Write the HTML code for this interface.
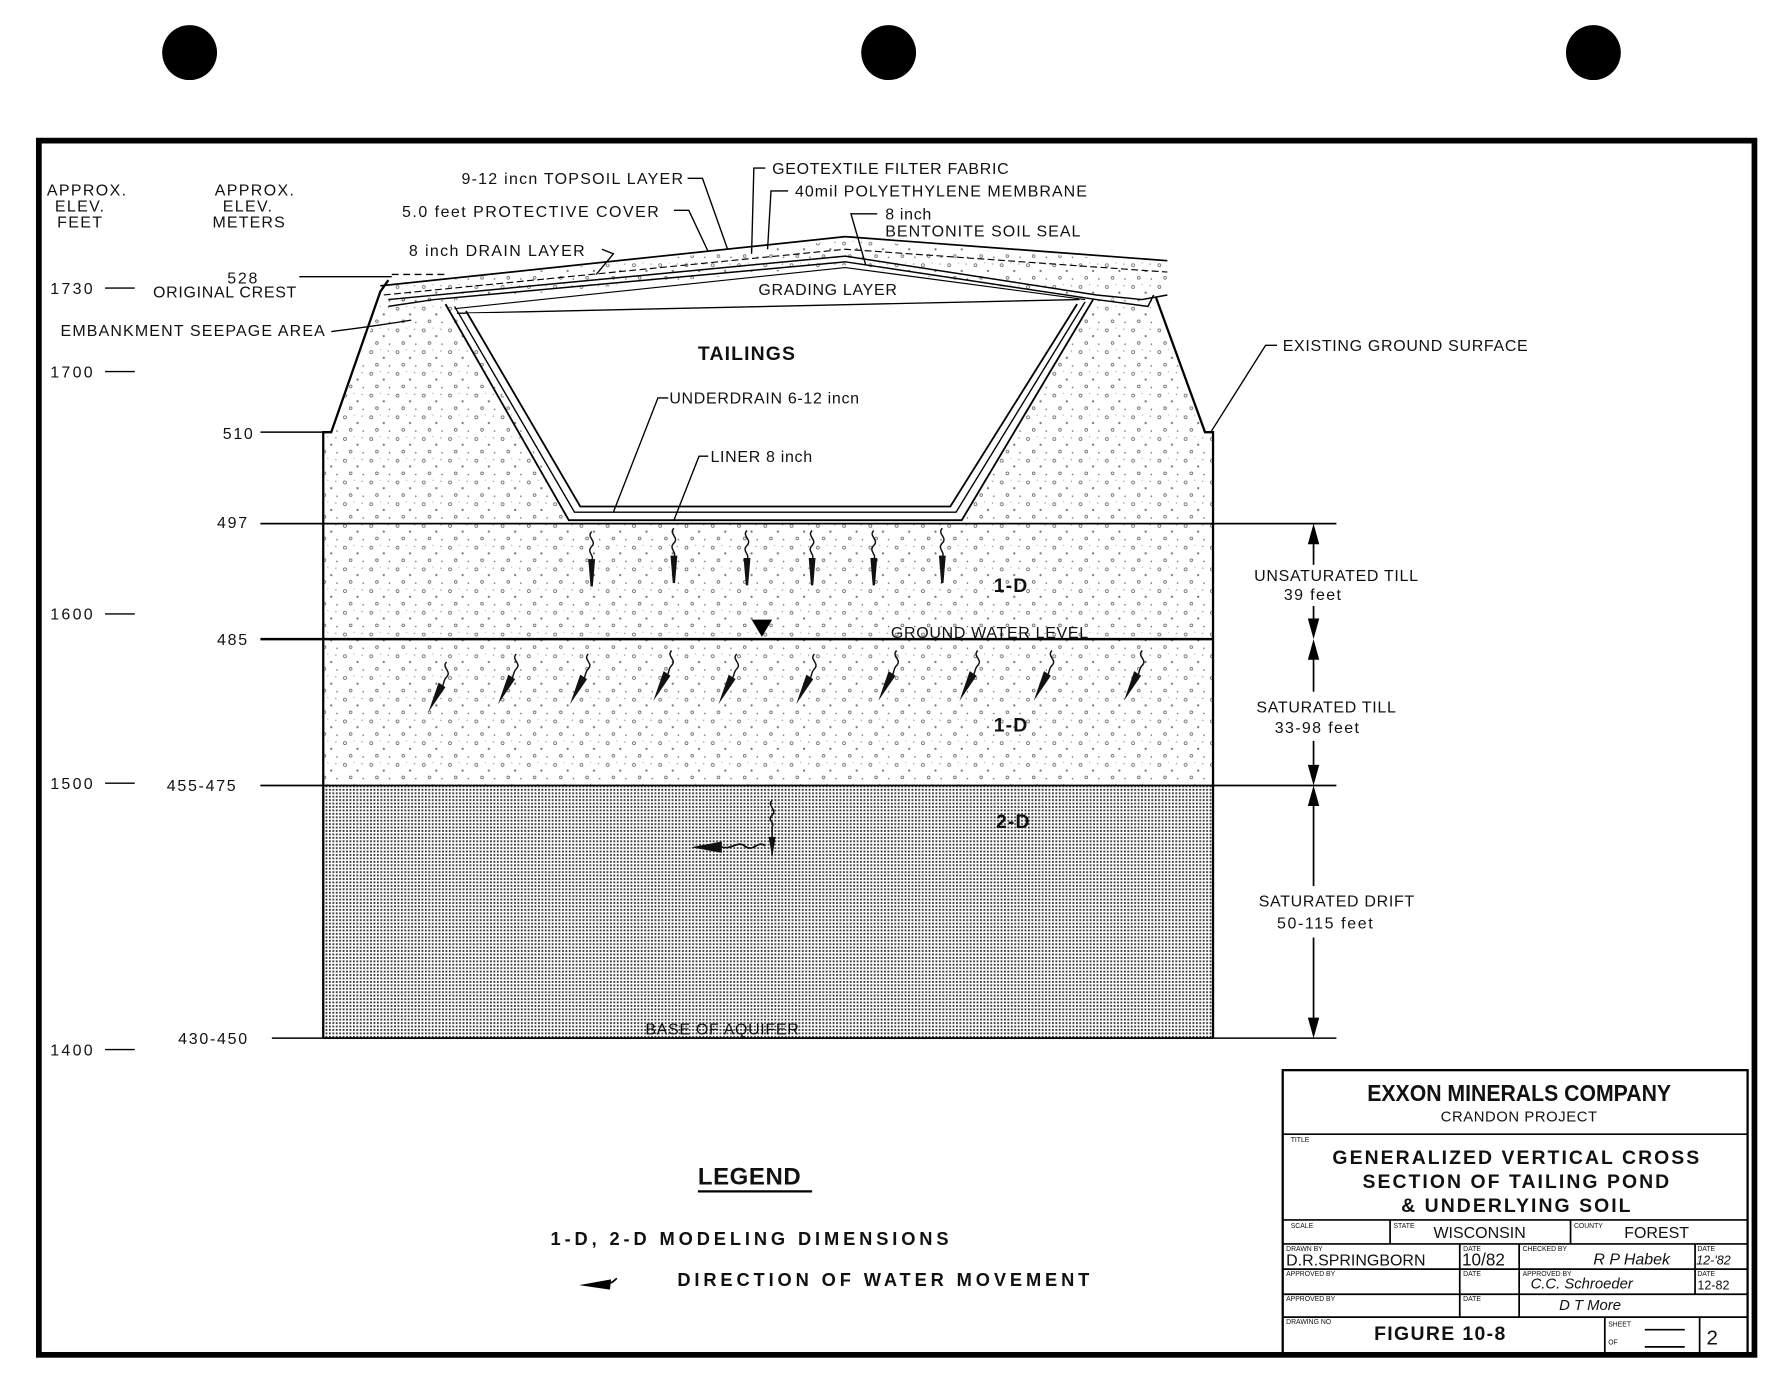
<!DOCTYPE html>
<html><head><meta charset="utf-8"><style>
html,body{margin:0;padding:0;background:#fff}
svg{display:block}
text{font-family:"Liberation Sans",sans-serif;fill:#111}
</style></head><body>
<svg width="1791" height="1380" viewBox="0 0 1568 1207" preserveAspectRatio="none" xmlns="http://www.w3.org/2000/svg">
<defs>
<pattern id="drift" width="3" height="3" patternUnits="userSpaceOnUse"><rect width="3" height="3" fill="#fff"/><rect width="1.6" height="1.6" fill="#333"/></pattern>
<pattern id="till" width="23" height="19" patternUnits="userSpaceOnUse">
<circle cx="3" cy="4" r="1.3" fill="none" stroke="#555" stroke-width="0.6"/>
<circle cx="14" cy="9" r="1" fill="#777"/>
<circle cx="8" cy="15" r="1.2" fill="none" stroke="#555" stroke-width="0.6"/>
<circle cx="19" cy="16" r="0.7" fill="#666"/>
<circle cx="18" cy="3" r="0.6" fill="#888"/>
<circle cx="11" cy="2" r="0.5" fill="#999"/>
</pattern>
<g id="wv"><path d="M0,-30 c-5,5 5,8 0,13 c-5,5 3,8 0,12" fill="none" stroke="#111" stroke-width="1.3"/><path d="M-3,-6 L3,-6 L1,18 L-1,18 Z" fill="#111"/></g>
<g id="wd"><path d="M10,-26 c-5,5 5,8 0,13 c-3,3 -2,6 -4,9" fill="none" stroke="#111" stroke-width="1.3"/><path d="M3,-8 L9,-4 L-6,18 Z" fill="#111"/></g>
</defs>
<rect width="1568" height="1207" fill="#fff"/>
<ellipse cx="166" cy="46" rx="24" ry="24" fill="#000"/>
<ellipse cx="778" cy="46" rx="24" ry="24" fill="#000"/>
<ellipse cx="1395" cy="46" rx="24" ry="24" fill="#000"/>
<rect x="34" y="123" width="1502" height="1062" fill="none" stroke="#000" stroke-width="5"/>

<path d="M283,378 L290,378 L336,258 L380,262 L398,268 L500,455 L840,455 L955,262 L1010,262 L1055,378 L1062,378 L1062,458 L283,458 Z" fill="url(#till)"/>
<rect x="283" y="458" width="779" height="229" fill="url(#till)"/>
<rect x="283" y="687" width="779" height="221" fill="url(#drift)"/>
<path d="M340,250 L740,210 L1022,230 L1022,258 L960,262 L740,232 L340,268 Z" fill="url(#till)"/>
<path d="M283,908 L283,378 L290,378 L333,255 L340,245" fill="none" stroke="#000" stroke-width="2"/>
<path d="M1062,908 L1062,378 L1055,378 L1012,260" fill="none" stroke="#000" stroke-width="2"/>
<path d="M283,908 L1062,908" stroke="#000" stroke-width="1.5"/>
<path d="M333,250 L740,207 L1022,228" fill="none" stroke="#000" stroke-width="1.5"/>
<path d="M336,258 L740,218 L1022,238" fill="none" stroke="#000" stroke-width="1" stroke-dasharray="6,3"/>
<path d="M340,262 L740,224 L960,258 L1000,262 L1022,258" fill="none" stroke="#000" stroke-width="1.3"/>
<path d="M340,268 L380,262 L740,229 L960,262 L1005,268 L1010,258" fill="none" stroke="#000" stroke-width="1.3"/>
<path d="M398,270 L740,234 L950,262" fill="none" stroke="#000" stroke-width="1"/>
<path d="M400,274 L945,262" fill="none" stroke="#000" stroke-width="1.2"/>
<path d="M343,240 L390,240" stroke="#000" stroke-width="1.2" stroke-dasharray="6,4"/>
<path d="M390,266 L498,455 L842,455 L957,262" fill="none" stroke="#000" stroke-width="1.6"/>
<path d="M398,268 L503,448 L837,448 L950,264" fill="none" stroke="#000" stroke-width="1.2"/>
<path d="M410,274 L943,268 L832,442 L508,442 Z" fill="#fff"/>
<path d="M408,272 L508,443 L832,443 L943,266" fill="none" stroke="#000" stroke-width="1.6"/>
<line x1="228" y1="458" x2="1170" y2="458" stroke="#000" stroke-width="1.5"/>
<line x1="228" y1="559" x2="1062" y2="559" stroke="#000" stroke-width="2.2"/>
<line x1="228" y1="687" x2="1170" y2="687" stroke="#000" stroke-width="1.5"/>
<line x1="238" y1="908" x2="1170" y2="908" stroke="#000" stroke-width="1.3"/>
<line x1="228" y1="378" x2="283" y2="378" stroke="#000" stroke-width="1.3"/>
<line x1="262" y1="242" x2="343" y2="242" stroke="#000" stroke-width="1.2"/>
<path d="M290,290 Q330,285 360,280" fill="none" stroke="#000" stroke-width="1.2"/>
<polygon points="658,542 676,542 667,557" fill="#000"/>
<g stroke="#000" stroke-width="1.5">
<line x1="1150" y1="462" x2="1150" y2="494"/><line x1="1150" y1="530" x2="1150" y2="555"/>
<line x1="1150" y1="563" x2="1150" y2="605"/><line x1="1150" y1="648" x2="1150" y2="683"/>
<line x1="1150" y1="691" x2="1150" y2="775"/><line x1="1150" y1="820" x2="1150" y2="905"/>
</g>
<g fill="#000">
<polygon points="1150,458 1145,476 1155,476"/><polygon points="1150,559 1145,541 1155,541"/>
<polygon points="1150,559 1145,577 1155,577"/><polygon points="1150,687 1145,669 1155,669"/>
<polygon points="1150,687 1145,705 1155,705"/><polygon points="1150,908 1145,890 1155,890"/>
</g>
<g fill="none" stroke="#000" stroke-width="1.2">
<path d="M602,156 L615,156 L637,218"/>
<path d="M590,184 L603,184 L620,220"/>
<path d="M527,218 L537,222 L522,240"/>
<path d="M670,147 L660,147 L658,222"/>
<path d="M690,167 L675,167 L672,218"/>
<path d="M768,187 L745,187 L758,232"/>
<path d="M1118,302 L1108,302 L1060,378"/>
<path d="M585,348 L576,348 L537,448"/>
<path d="M620,399 L612,399 L590,455"/>
<line x1="92" y1="252" x2="118" y2="252"/><line x1="92" y1="325" x2="118" y2="325"/>
<line x1="92" y1="537" x2="118" y2="537"/><line x1="92" y1="685" x2="118" y2="685"/>
<line x1="92" y1="918" x2="118" y2="918"/>
</g>
<use href="#wv" x="518" y="495"/><use href="#wv" x="590" y="492"/><use href="#wv" x="654" y="494"/>
<use href="#wv" x="711" y="494"/><use href="#wv" x="765" y="494"/><use href="#wv" x="825" y="492"/>
<use href="#wd" x="381" y="605"/><use href="#wd" x="442" y="598"/><use href="#wd" x="505" y="598"/>
<use href="#wd" x="578" y="595"/><use href="#wd" x="635" y="598"/><use href="#wd" x="703" y="598"/>
<use href="#wd" x="775" y="595"/><use href="#wd" x="846" y="595"/><use href="#wd" x="911" y="595"/><use href="#wd" x="990" y="595"/>
<path d="M676,700 c-5,5 5,8 0,13 c-5,5 3,6 0,10 L676,748" fill="none" stroke="#111" stroke-width="1.3"/>
<path d="M673,732 L679,732 L676,750 Z" fill="#111"/>
<path d="M670,740 c-6,-6 -10,6 -18,0 c-6,-5 -10,3 -20,1" fill="none" stroke="#111" stroke-width="1.5"/>
<path d="M605,741 L632,736 L632,746 Z" fill="#111"/>

<g font-size="14" letter-spacing="0.6">
<text x="41" y="171" letter-spacing="1.2">APPROX.</text><text x="48" y="185" letter-spacing="1.2">ELEV.</text><text x="50" y="199" letter-spacing="1.2">FEET</text>
<text x="188" y="171" letter-spacing="1.2">APPROX.</text><text x="195" y="185" letter-spacing="1.2">ELEV.</text><text x="186" y="199" letter-spacing="1">METERS</text>
<text x="44" y="257" letter-spacing="2">1730</text><text x="44" y="330" letter-spacing="2">1700</text><text x="44" y="542" letter-spacing="2">1600</text>
<text x="44" y="690" letter-spacing="2">1500</text><text x="44" y="923" letter-spacing="2">1400</text>
<text x="199" y="248" letter-spacing="1.5">528</text><text x="134" y="260">ORIGINAL CREST</text>
<text x="53" y="294" letter-spacing="1">EMBANKMENT SEEPAGE AREA</text>
<text x="195" y="384" letter-spacing="1.5">510</text><text x="190" y="462" letter-spacing="1.5">497</text><text x="190" y="564" letter-spacing="1.5">485</text>
<text x="146" y="692" letter-spacing="1.5">455-475</text><text x="156" y="913" letter-spacing="1.5">430-450</text>
<text x="404" y="161" letter-spacing="1.1">9-12 incn TOPSOIL LAYER</text>
<text x="352" y="190" letter-spacing="1.3">5.0 feet  PROTECTIVE COVER</text>
<text x="358" y="224" letter-spacing="1.2">8 inch   DRAIN LAYER</text>
<text x="676" y="152">GEOTEXTILE FILTER FABRIC</text>
<text x="696" y="172" letter-spacing="0.9">40mil POLYETHYLENE MEMBRANE</text>
<text x="775" y="192">8 inch</text><text x="775" y="207" letter-spacing="0.9">BENTONITE SOIL SEAL</text>
<text x="664" y="258">GRADING LAYER</text>
<text x="1123" y="307">EXISTING GROUND SURFACE</text>
<text x="586" y="353">UNDERDRAIN 6-12 incn</text>
<text x="622" y="404">LINER 8 inch</text>
<text x="780" y="558">GROUND WATER LEVEL</text>
<text x="1098" y="508">UNSATURATED TILL</text><text x="1124" y="525" letter-spacing="1.2">39 feet</text>
<text x="1100" y="623">SATURATED TILL</text><text x="1116" y="641" letter-spacing="1.2">33-98 feet</text>
<text x="1102" y="793">SATURATED DRIFT</text><text x="1118" y="812" letter-spacing="1.4">50-115 feet</text>
<text x="565" y="905">BASE OF AQUIFER</text>
</g>
<g font-size="17" font-weight="bold" letter-spacing="1">
<text x="611" y="315">TAILINGS</text>
<text x="870" y="518">1-D</text><text x="870" y="640">1-D</text><text x="872" y="724">2-D</text>
</g>
<text x="611" y="1036" font-size="21" font-weight="bold" letter-spacing="0.5">LEGEND</text>
<line x1="611" y1="1042" x2="711" y2="1042" stroke="#000" stroke-width="2"/>
<g font-size="16" font-weight="bold" letter-spacing="3.4">
<text x="482" y="1089">1-D, 2-D  MODELING DIMENSIONS</text>
<text x="593" y="1125">DIRECTION OF WATER MOVEMENT</text>
</g>
<path d="M540,1118 c-4,4 -6,5 -10,4 L527,1122" fill="none" stroke="#000" stroke-width="1.5"/>
<path d="M507,1124 L535,1119 L534,1128 Z" fill="#000"/>

<g fill="none" stroke="#000" stroke-width="1.5">
<rect x="1123" y="936" width="407" height="248" stroke-width="2"/>
<line x1="1123" y1="992" x2="1530" y2="992"/>
<line x1="1123" y1="1067" x2="1530" y2="1067"/>
<line x1="1123" y1="1088" x2="1530" y2="1088"/>
<line x1="1123" y1="1110" x2="1530" y2="1110"/>
<line x1="1123" y1="1132" x2="1530" y2="1132"/>
<line x1="1123" y1="1152" x2="1530" y2="1152"/>
<line x1="1217" y1="1067" x2="1217" y2="1088"/>
<line x1="1375" y1="1067" x2="1375" y2="1088"/>
<line x1="1278" y1="1088" x2="1278" y2="1152"/>
<line x1="1330" y1="1088" x2="1330" y2="1152"/>
<line x1="1484" y1="1088" x2="1484" y2="1132"/>
<line x1="1405" y1="1152" x2="1405" y2="1184"/>
<line x1="1488" y1="1152" x2="1488" y2="1184"/>
<line x1="1440" y1="1163" x2="1475" y2="1163"/>
<line x1="1440" y1="1178" x2="1475" y2="1178"/>
</g>
<text x="1330" y="963" font-size="20" font-weight="bold" text-anchor="middle" textLength="266" lengthAdjust="spacingAndGlyphs">EXXON MINERALS COMPANY</text>
<text x="1330" y="981" font-size="13" text-anchor="middle" letter-spacing="0.5">CRANDON PROJECT</text>
<g font-size="17" font-weight="bold" text-anchor="middle" letter-spacing="1.8">
<text x="1328" y="1018">GENERALIZED VERTICAL CROSS</text>
<text x="1328" y="1039">SECTION OF TAILING   POND</text>
<text x="1328" y="1060">&amp; UNDERLYING SOIL</text>
</g>
<g font-size="6"><text x="1130" y="999">TITLE</text><text x="1130" y="1074">SCALE</text><text x="1220" y="1074">STATE</text><text x="1378" y="1074">COUNTY</text>
<text x="1126" y="1094">DRAWN BY</text><text x="1281" y="1094">DATE</text><text x="1333" y="1094">CHECKED BY</text><text x="1486" y="1094">DATE</text>
<text x="1126" y="1116">APPROVED BY</text><text x="1281" y="1116">DATE</text><text x="1333" y="1116">APPROVED BY</text><text x="1486" y="1116">DATE</text>
<text x="1126" y="1138">APPROVED BY</text><text x="1281" y="1138">DATE</text><text x="1126" y="1158">DRAWING NO</text><text x="1408" y="1160">SHEET</text><text x="1408" y="1176">OF</text></g>
<text x="1255" y="1083" font-size="14">WISCONSIN</text>
<text x="1422" y="1083" font-size="14">FOREST</text>
<text x="1126" y="1107" font-size="14">D.R.SPRINGBORN</text>
<text x="1280" y="1107" font-size="15">10/82</text>
<text x="1395" y="1106" font-size="14" font-style="italic" font-family="Liberation Serif">R P Habek</text>
<text x="1485" y="1106" font-size="11" font-style="italic">12-'82</text>
<text x="1340" y="1127" font-size="13" font-style="italic" font-family="Liberation Serif">C.C. Schroeder</text>
<text x="1486" y="1128" font-size="11">12-82</text>
<text x="1365" y="1146" font-size="13" font-style="italic" font-family="Liberation Serif">D T More</text>
<text x="1203" y="1172" font-size="17" font-weight="bold" letter-spacing="1.2">FIGURE 10-8</text>
<text x="1494" y="1176" font-size="18">2</text>
</svg>
</body></html>
